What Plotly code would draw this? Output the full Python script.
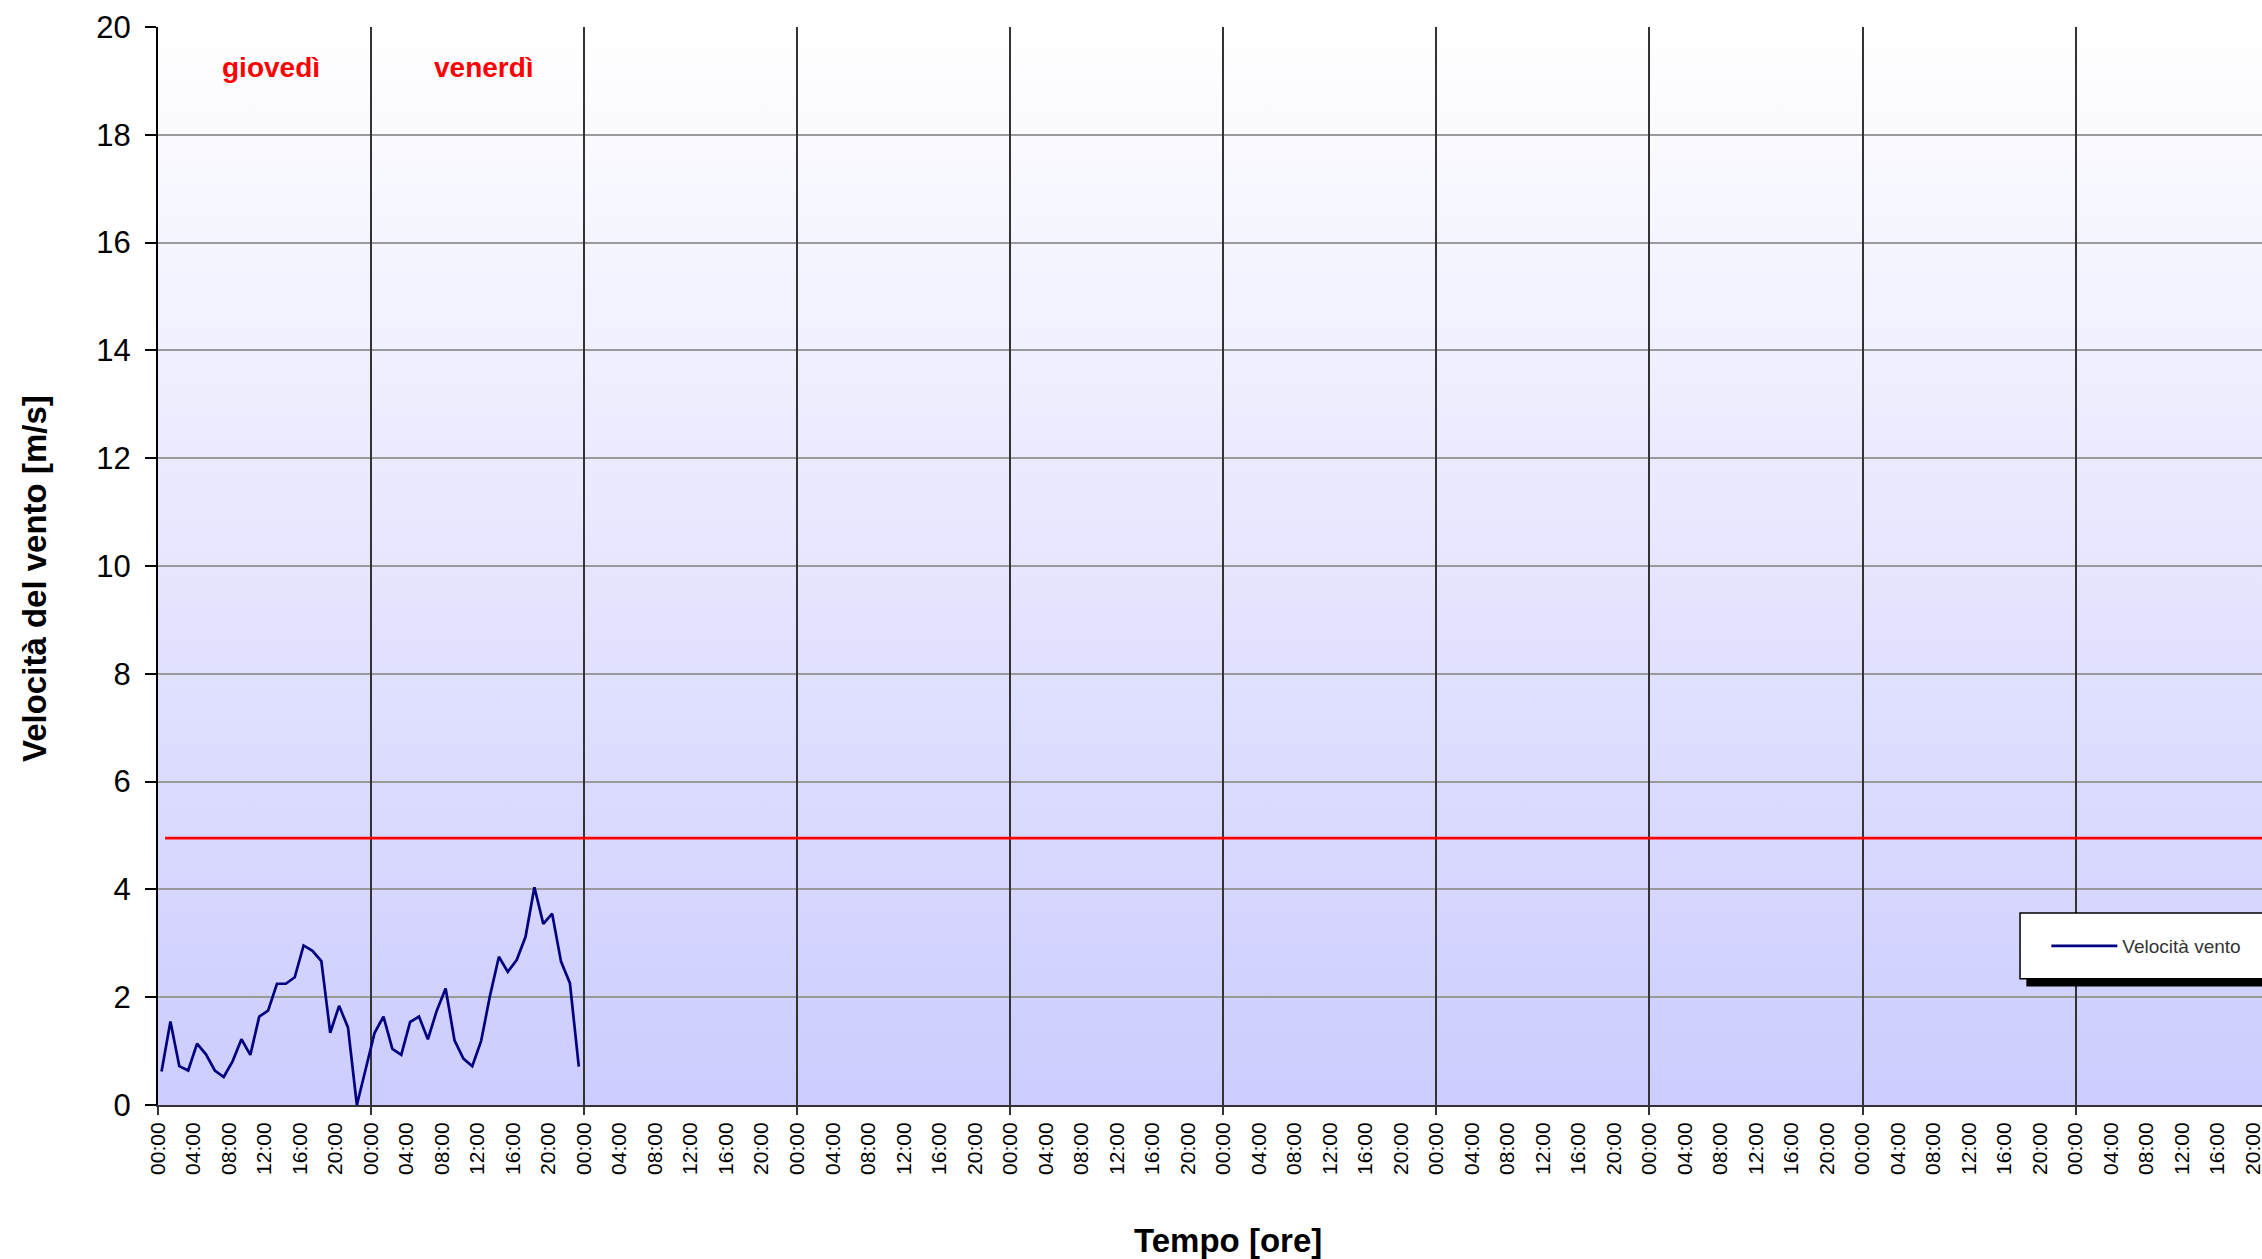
import base64
import plotly.graph_objects as go

# hourly wind speed readings (hours from thursday 00:00)
ore = [i + 0.4 for i in range(48)]
velocita = [0.62, 1.55, 0.72, 0.64, 1.14, 0.94, 0.64, 0.52, 0.81, 1.22, 0.93, 1.64,
            1.75, 2.25, 2.25, 2.37, 2.96, 2.86, 2.67, 1.34, 1.84, 1.44, 0.0, 0.68,
            1.34, 1.64, 1.04, 0.93, 1.54, 1.64, 1.22, 1.75, 2.16, 1.2, 0.86, 0.72,
            1.19, 2.03, 2.75, 2.47, 2.69, 3.12, 4.04, 3.36, 3.55, 2.66, 2.26, 0.71]

# threshold line
soglia_ore = [0.8, 240]
soglia = [4.95, 4.95]

giorni = ["giovedì", "venerdì"]
x_max = 237.0

tick_ore = list(range(0, 237, 4))
tick_testo = ["%02d:00" % (h % 24) for h in tick_ore]

FONT = "Liberation Sans, Arial, sans-serif"

# vertical white -> lavender gradient for the plot background
svg = ('<svg xmlns="http://www.w3.org/2000/svg" width="10" height="100" viewBox="0 0 10 100" '
       'preserveAspectRatio="none"><defs><linearGradient id="g" x1="0" y1="0" x2="0" y2="1">'
       '<stop offset="0" stop-color="#ffffff"/><stop offset="1" stop-color="#ccccff"/>'
       '</linearGradient></defs><rect width="10" height="100" fill="url(#g)"/></svg>')
bg_src = "data:image/svg+xml;base64," + base64.b64encode(svg.encode()).decode()

fig = go.Figure()
fig.add_trace(go.Scatter(x=soglia_ore, y=soglia, mode="lines", xaxis="x2",
                         line=dict(color="#ff0000", width=2.7),
                         showlegend=False, hoverinfo="skip"))
fig.add_trace(go.Scatter(x=ore, y=velocita, mode="lines", name="Velocità vento",
                         line=dict(color="#000080", width=2.7)))

for i, g in enumerate(giorni):
    fig.add_annotation(x=i * 24 + 12.7, y=19.25, text=g, showarrow=False,
                       font=dict(family=FONT, size=28, color="#ff0000", weight="bold"))

# axis titles
fig.add_annotation(xref="paper", yref="paper", x=0.5084, y=-0.1258, text="Tempo [ore]",
                   showarrow=False, xanchor="center", yanchor="middle",
                   font=dict(family=FONT, size=33, color="black", weight="bold"))
fig.add_annotation(xref="paper", yref="paper", x=-0.0587, y=0.4884,
                   text="Velocità del vento [m/s]", textangle=-90,
                   showarrow=False, xanchor="center", yanchor="middle",
                   font=dict(family=FONT, size=33, color="black", weight="bold"))

# legend box with shadow
fig.add_shape(type="rect", xref="paper", yref="paper", x0=0.888, x1=1.1, y0=0.110, y1=0.172,
              fillcolor="black", line=dict(width=0), layer="above")
fig.add_shape(type="rect", xref="paper", yref="paper", x0=0.885, x1=1.1, y0=0.117, y1=0.178,
              fillcolor="white", line=dict(color="black", width=1.5), layer="above")

fig.update_layout(
    width=2262, height=1259,
    margin=dict(l=158, r=0, t=27, b=154),
    paper_bgcolor="white", plot_bgcolor="rgba(0,0,0,0)",
    font=dict(family=FONT, color="black"),
    images=[dict(source=bg_src, xref="paper", yref="paper", x=0, y=1, sizex=1, sizey=1,
                 xanchor="left", yanchor="top", sizing="stretch", layer="below")],
    xaxis=dict(range=[0, x_max], tickvals=tick_ore, ticktext=tick_testo, tickangle=-90,
               ticks="outside", ticklen=7, tickcolor="rgba(0,0,0,0)",
               ticklabeloverflow="allow",
               tickfont=dict(size=21, color="black"), showgrid=False, zeroline=False,
               showline=True, linecolor="#333333", linewidth=2, automargin=False),
    xaxis2=dict(range=[0, x_max], overlaying="x", anchor="y", side="bottom",
                tick0=0, dtick=24, ticks="outside", ticklen=9, tickwidth=1.5,
                tickcolor="#333333", showticklabels=False, showgrid=True,
                gridcolor="#333333", gridwidth=1.5, zeroline=False, showline=False),
    yaxis=dict(range=[0, 20], dtick=2, ticks="outside", ticklen=11, tickwidth=1.5,
               tickcolor="black", tickfont=dict(size=31, color="black"),
               ticklabelstandoff=8,
               showgrid=True, gridcolor="#999999", gridwidth=1.5, zeroline=False,
               showline=True, linecolor="black", linewidth=2, automargin=False),
    showlegend=True,
    legend=dict(x=0.8975, y=0.1475, xanchor="left", yanchor="middle",
                bgcolor="rgba(0,0,0,0)", borderwidth=0, itemwidth=66,
                font=dict(family=FONT, size=19, color="#333333")),
)

fig.write_html("out.html", config={"displayModeBar": False},
               post_script="document.body.style.margin='0';document.body.style.overflow='hidden';")
